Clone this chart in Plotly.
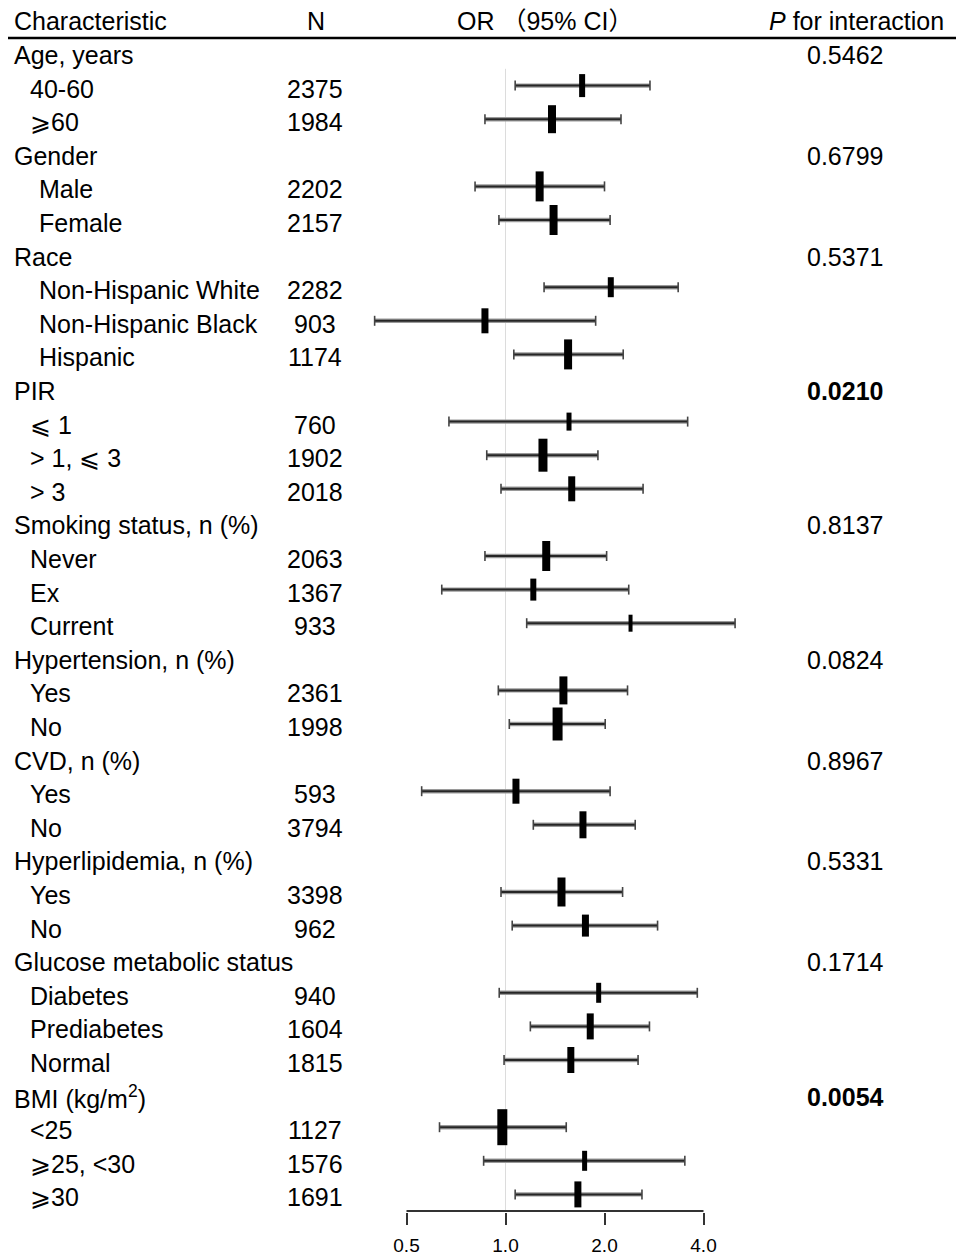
import math
import plotly.graph_objects as go

# ---------------- data ----------------
row_labels = [
    "Age, years", "40-60", "⩾60",
    "Gender", "Male", "Female",
    "Race", "Non-Hispanic White", "Non-Hispanic Black", "Hispanic",
    "PIR", "⩽ 1", "&gt; 1, ⩽ 3", "&gt; 3",
    "Smoking status, n (%)", "Never", "Ex", "Current",
    "Hypertension, n (%)", "Yes", "No",
    "CVD, n (%)", "Yes", "No",
    "Hyperlipidemia, n (%)", "Yes", "No",
    "Glucose metabolic status", "Diabetes", "Prediabetes", "Normal",
    "BMI (kg/m<sup>2</sup>)", "&lt;25", "⩾25, &lt;30", "⩾30",
]
row_is_group = [
    1, 0, 0,
    1, 0, 0,
    1, 0, 0, 0,
    1, 0, 0, 0,
    1, 0, 0, 0,
    1, 0, 0,
    1, 0, 0,
    1, 0, 0,
    1, 0, 0, 0,
    1, 0, 0, 0,
]
p_interaction = ["0.5462", "0.6799", "0.5371", "0.0210", "0.8137",
                 "0.0824", "0.8967", "0.5331", "0.1714", "0.0054"]
p_bold = [False, False, False, True, False, False, False, False, False, True]

n_values = [2375, 1984, 2202, 2157, 2282, 903, 1174, 760, 1902, 2018,
            2063, 1367, 933, 2361, 1998, 593, 3794, 3398, 962,
            940, 1604, 1815, 1127, 1576, 1691]
or_est = [1.71, 1.385, 1.27, 1.40, 2.09, 0.866, 1.55, 1.56, 1.30, 1.59,
          1.33, 1.215, 2.40, 1.50, 1.44, 1.076, 1.72, 1.48, 1.75,
          1.92, 1.81, 1.58, 0.978, 1.74, 1.66]
ci_low = [1.07, 0.866, 0.808, 0.955, 1.31, 0.40, 1.06, 0.673, 0.877, 0.969,
          0.866, 0.64, 1.16, 0.951, 1.027, 0.556, 1.215, 0.969, 1.048,
          0.957, 1.19, 0.99, 0.63, 0.858, 1.07]
ci_high = [2.75, 2.245, 2.0, 2.08, 3.35, 1.88, 2.28, 3.58, 1.91, 2.62,
           2.03, 2.37, 4.99, 2.35, 2.01, 2.08, 2.48, 2.27, 2.90,
           3.83, 2.74, 2.53, 1.53, 3.51, 2.60]

tick_vals = [0.5, 1.0, 2.0, 4.0]
tick_text = ["0.5", "1.0", "2.0", "4.0"]

# ---------------- styles ----------------
box_w = [6, 8, 8, 8, 6, 7, 8, 5, 9, 7, 8, 6, 4, 8, 10, 7, 7, 8, 7, 5, 7, 7, 10, 5, 7]
box_h = [23, 28, 30, 30, 20, 25, 30, 18, 33, 25, 30, 22, 17, 28, 33, 25, 27, 29, 22, 20, 26, 26, 36, 20, 26]
group_indent = [28, 37, 37, 28, 28, 28, 28, 28, 28, 28]

W, H = 956, 1255
ROW0, ROWH = 52.0, 33.6
PX_BOTTOM = 1212
X0PX = 505.5
PX_PER_DEC = 99.0 / math.log10(2)
FONT = "Liberation Sans, Arial, Noto Sans CJK SC, sans-serif"
FS = 25
TEXT_SHIFT = -3
LINE_SYM = 1.4  # plotly scales line-ns symbols by 1.4

y_top = -ROW0 / ROWH
y_bot = (PX_BOTTOM - ROW0) / ROWH
y_axisline = (PX_BOTTOM - 1 - ROW0) / ROWH
x_left = -X0PX / PX_PER_DEC
x_right = (W - X0PX) / PX_PER_DEC


def px(xp):
    return xp / W


sub_rows = [i for i, g in enumerate(row_is_group) if not g]

fig = go.Figure()

# reference line at OR = 1
fig.add_trace(go.Scatter(x=[1, 1], y=[0.5, y_bot], mode="lines",
                         line=dict(color="#dcdcdc", width=1), hoverinfo="skip"))

# CI lines
lx, ly = [], []
for r, lo, hi in zip(sub_rows, ci_low, ci_high):
    lx += [lo, hi, None]
    ly += [r, r, None]
fig.add_trace(go.Scatter(x=lx, y=ly, mode="lines",
                         line=dict(color="#9a9a9a", width=4.4), hoverinfo="skip"))
fig.add_trace(go.Scatter(x=lx, y=ly, mode="lines",
                         line=dict(color="#262626", width=2.0), hoverinfo="skip"))

# caps
fig.add_trace(go.Scatter(x=ci_low + ci_high, y=sub_rows + sub_rows, mode="markers",
                         marker=dict(symbol="line-ns", size=10 / LINE_SYM, color="#444",
                                     opacity=1, line=dict(width=1.6, color="#444")),
                         cliponaxis=False, hoverinfo="skip"))

# boxes
fig.add_trace(go.Scatter(x=or_est, y=sub_rows, mode="markers",
                         marker=dict(symbol="line-ns", size=[h / LINE_SYM for h in box_h],
                                     color="black", opacity=1,
                                     line=dict(width=box_w, color="black")),
                         cliponaxis=False, hoverinfo="skip"))

# x axis line from first to last tick
fig.add_trace(go.Scatter(x=[tick_vals[0], tick_vals[-1]], y=[y_axisline, y_axisline],
                         mode="lines", line=dict(color="#333", width=2), hoverinfo="skip"))

ann = []
font = dict(family=FONT, size=FS, color="black")

hdr_row = -1
ann.append(dict(x=px(12), y=hdr_row, text="Characteristic", xanchor="left"))
ann.append(dict(x=px(316), y=hdr_row, text="N", xanchor="center"))
ann.append(dict(x=px(545), y=hdr_row, text="OR （95% CI）", xanchor="center"))
ann.append(dict(x=px(946), y=hdr_row, text="<i>P</i> for interaction", xanchor="right"))

gi = -1
si = 0
for r, (lab, g) in enumerate(zip(row_labels, row_is_group)):
    if g:
        gi += 1
        ann.append(dict(x=px(12), y=r, text=lab, xanchor="left"))
        ptxt = p_interaction[gi]
        if p_bold[gi]:
            ptxt = "<b>" + ptxt + "</b>"
        ann.append(dict(x=px(845), y=r, text=ptxt, xanchor="center"))
    else:
        ann.append(dict(x=px(group_indent[gi]), y=r, text=lab, xanchor="left"))
        ann.append(dict(x=px(315), y=r, text=str(n_values[si]), xanchor="center"))
        si += 1

for a in ann:
    a.update(xref="paper", yref="y", yanchor="middle", showarrow=False,
             font=font, yshift=TEXT_SHIFT)

fig.update_layout(
    width=W, height=H,
    margin=dict(l=0, r=0, t=0, b=H - PX_BOTTOM),
    paper_bgcolor="white", plot_bgcolor="white",
    showlegend=False,
    annotations=ann,
    shapes=[dict(type="line", xref="paper", yref="y",
                 x0=px(8), x1=1, y0=(38 - ROW0) / ROWH, y1=(38 - ROW0) / ROWH,
                 line=dict(color="black", width=2.5))],
    xaxis=dict(type="log", range=[x_left, x_right], tickvals=tick_vals,
               ticktext=tick_text, ticks="outside", ticklen=12, tickwidth=2,
               tickcolor="#333", showgrid=False, zeroline=False, showline=False,
               tickfont=dict(family=FONT, size=19, color="black"),
               ticklabelstandoff=4, automargin=False, fixedrange=True),
    yaxis=dict(range=[y_bot, y_top], visible=False, showgrid=False,
               zeroline=False, fixedrange=True),
)

fig.write_html("out.html", config={"displayModeBar": False},
               post_script="document.body.style.margin='0';document.body.style.overflow='hidden';")
